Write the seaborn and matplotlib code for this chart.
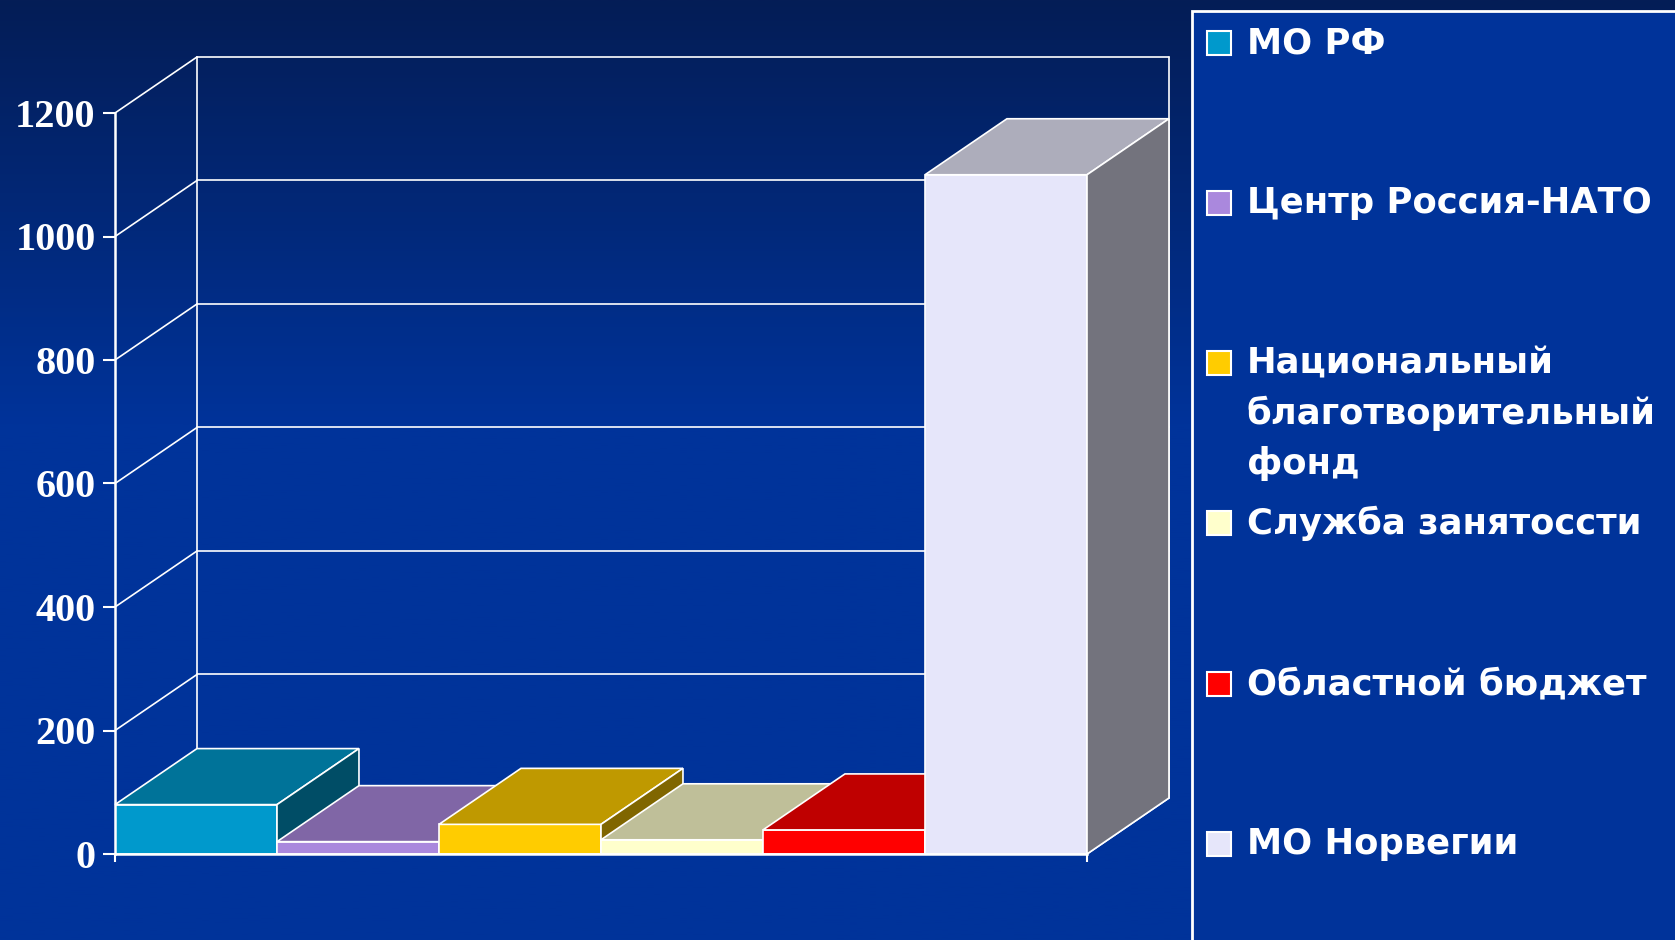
import numpy as np
import matplotlib
matplotlib.use("Agg")
import matplotlib.pyplot as plt
import matplotlib.colors as mcolors
from matplotlib.patches import Polygon, Rectangle
import seaborn as sns

# Источники финансирования и суммы
sources = ["МО РФ", "Центр Россия-НАТО", "Национальный\nблаготворительный\nфонд",
           "Служба занятосcти", "Областной бюджет", "МО Норвегии"]
amounts = [80, 20, 48, 23, 39, 1100]
front_colors = ["#0099cc", "#aa88dd", "#ffcc00", "#ffffcc", "#ff0000", "#e6e6fa"]
y_ticks = [0, 200, 400, 600, 800, 1000, 1200]

sns.set_style("white")
plt.rcParams["font.family"] = ["Liberation Sans", "DejaVu Sans"]

W, H = 1675, 940
fig = plt.figure(figsize=(W / 100, H / 100), dpi=100)

# фон с градиентом
bg = fig.add_axes([0, 0, 1, 1])
top_c = np.array(mcolors.to_rgb("#041d56"))
bot_c = np.array(mcolors.to_rgb("#00339a"))
t = np.clip(np.linspace(0, 1, 400) / 0.45, 0, 1)[:, None]
grad = top_c * (1 - t) + bot_c * t
bg.imshow(grad[:, None, :], aspect="auto", extent=[0, 1, 0, 1])
bg.axis("off")

ax = fig.add_axes([115 / W, (H - 854) / H, 972 / W, 741 / H])
ax.set_facecolor("none")

dx = 0.506   # глубина по x (в единицах категорий)
dy = 90.7    # глубина по y (в единицах значений)

# задняя стенка и сетка
line_kw = dict(color="white", lw=1.2, clip_on=False, zorder=1)
for v in y_ticks[1:]:
    ax.plot([-0.5 + dx, 5.5 + dx], [v + dy, v + dy], **line_kw)
    ax.plot([-0.5, -0.5 + dx], [v, v + dy], **line_kw)
ax.plot([-0.5 + dx, -0.5 + dx], [dy, 1200 + dy], **line_kw)
ax.plot([5.5 + dx, 5.5 + dx], [dy, 1200 + dy], **line_kw)
ax.plot([5.5, 5.5 + dx], [0, dy], **line_kw)

sns.barplot(x=list(range(len(sources))), y=amounts, hue=list(range(len(sources))),
            palette=front_colors, width=1, ax=ax, legend=False,
            edgecolor="white", linewidth=1.2, saturation=1)

# верхние и боковые грани столбцов
for i, p in enumerate(ax.patches):
    x0, w, h = p.get_x(), p.get_width(), p.get_height()
    base = np.array(mcolors.to_rgb(front_colors[i]))
    p.set_zorder(3 + 3 * i)
    top = Polygon([(x0, h), (x0 + w, h), (x0 + w + dx, h + dy), (x0 + dx, h + dy)],
                  closed=True, facecolor=base * 0.75, edgecolor="white", lw=1.2,
                  clip_on=False, zorder=4 + 3 * i)
    side = Polygon([(x0 + w, 0), (x0 + w + dx, dy), (x0 + w + dx, h + dy), (x0 + w, h)],
                   closed=True, facecolor=base * 0.5, edgecolor="white", lw=1.2,
                   clip_on=False, zorder=4 + 3 * i)
    ax.add_patch(top)
    ax.add_patch(side)

ax.set_xlim(-0.5, 5.5)
ax.set_ylim(0, 1200)
ax.set_yticks(y_ticks)
ax.set_yticklabels([str(v) for v in y_ticks], family=["Liberation Serif"],
                   fontweight="bold", fontsize=29, color="white")
ax.set_xticks([-0.5, 5.5])
ax.set_xticklabels(["", ""])
ax.tick_params(axis="y", colors="white", length=9, width=1.5, pad=5, left=True)
ax.tick_params(axis="x", colors="white", length=6, width=1.5, bottom=True)
for s in ["top", "right"]:
    ax.spines[s].set_visible(False)
for s in ["left", "bottom"]:
    ax.spines[s].set_color("white")
    ax.spines[s].set_linewidth(1.8)
    ax.spines[s].set_zorder(30)
ax.set_xlabel("")
ax.set_ylabel("")

# легенда
fig.patches.append(Rectangle((1192 / W, -0.02), 0.5, (H - 11) / H + 0.02,
                             transform=fig.transFigure, facecolor="#00339a",
                             edgecolor="white", lw=2, zorder=2))
leg_y = [43, 203, 363, 523, 684, 844]
for name, col, yc in zip(sources, front_colors, leg_y):
    fig.patches.append(Rectangle((1207 / W, (H - yc - 12) / H), 24 / W, 24 / H,
                                 transform=fig.transFigure, facecolor=col,
                                 edgecolor="white", lw=1.5, zorder=3))
    fig.text(1247 / W, (H - yc + 17) / H, name, color="white", fontsize=25.5,
             family=["DejaVu Sans"], fontweight="bold", ha="left", va="top",
             linespacing=1.55, zorder=4)

fig.savefig("out.png", dpi=100)
